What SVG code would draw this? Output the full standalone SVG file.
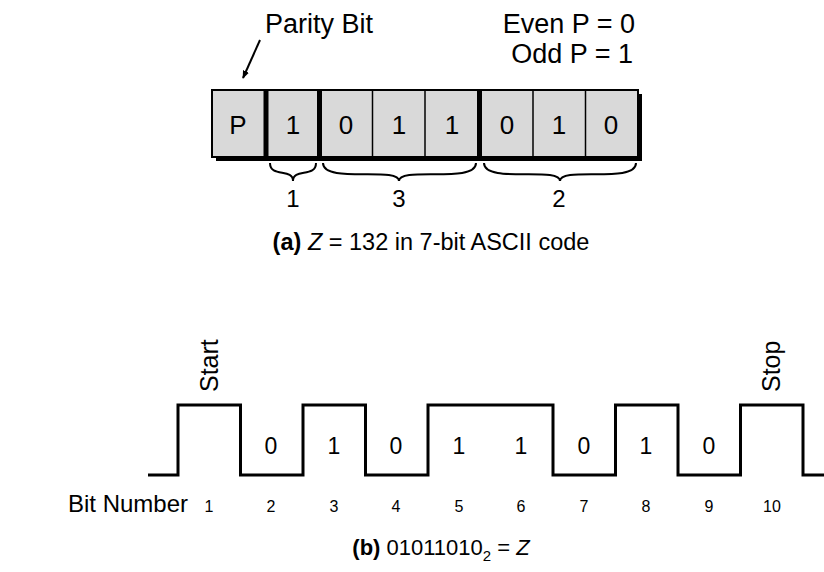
<svg xmlns="http://www.w3.org/2000/svg" width="824" height="572" viewBox="0 0 824 572">
<style>
text{font-family:"Liberation Sans",Arial,sans-serif;fill:#000}
.t25{font-size:27px}
.cell{font-size:26px;text-anchor:middle}
.lbl{font-size:24px;text-anchor:middle}
.rot{font-size:25px;text-anchor:start}
.cap{font-size:23.5px;text-anchor:middle}
.capb{font-size:22px;text-anchor:middle}
.dig{font-size:23px;text-anchor:middle}
.num{font-size:16px;text-anchor:middle}
.brace{fill:none;stroke:#000;stroke-width:2}
.thin{stroke:#000;stroke-width:1.5}
.thick{stroke:#000;stroke-width:5}
</style>
<defs>
<marker id="ah" viewBox="0 0 10 10" refX="9" refY="5" markerWidth="8" markerHeight="8" orient="auto" markerUnits="userSpaceOnUse">
<path d="M0,1 L10,5 L0,9 Z" fill="#000"/>
</marker>
</defs>
<rect width="824" height="572" fill="#fff"/>

<g id="parity-label">
<text class="t25" x="265" y="33">Parity Bit</text>
</g>
<g id="even-odd">
<text class="t25" x="635" y="33" text-anchor="end">Even P = 0</text>
<text class="t25" x="633" y="63" text-anchor="end">Odd P = 1</text>
</g>

<g id="register">
<rect x="216" y="94" width="426" height="67" fill="#000"/>
<rect x="212" y="90" width="426" height="67" fill="#d9d9d9" stroke="#000" stroke-width="2"/>
<line class="thick" x1="266" y1="90" x2="266" y2="160"/>
<line class="thick" x1="319.5" y1="90" x2="319.5" y2="160"/>
<line class="thick" x1="479.5" y1="90" x2="479.5" y2="160"/>
<line class="thin" x1="372.5" y1="90" x2="372.5" y2="157"/>
<line class="thin" x1="425" y1="90" x2="425" y2="157"/>
<line class="thin" x1="533" y1="90" x2="533" y2="157"/>
<line class="thin" x1="585.5" y1="90" x2="585.5" y2="157"/>
<text class="cell" x="238" y="134">P</text>
<text class="cell" x="293" y="134">1</text>
<text class="cell" x="346" y="134">0</text>
<text class="cell" x="399" y="134">1</text>
<text class="cell" x="452" y="134">1</text>
<text class="cell" x="507" y="134">0</text>
<text class="cell" x="559" y="134">1</text>
<text class="cell" x="611" y="134">0</text>
</g>

<g id="braces">
<path class="brace" d="M270,163 C270,178 293,168 293,181 C293,168 316,178 316,163"/>
<path class="brace" d="M323,163 C323,184 399,166 399,181 C399,166 476,184 476,163"/>
<path class="brace" d="M484,163 C484,184 560,166 560,181 C560,166 636,184 636,163"/>
<text class="lbl" x="293" y="207">1</text>
<text class="lbl" x="399" y="207">3</text>
<text class="lbl" x="559" y="207">2</text>
</g>

<g id="caption-a">
<text class="cap" x="431" y="250"><tspan font-weight="bold">(a)</tspan> <tspan font-style="italic">Z</tspan> = 132 in 7-bit ASCII code</text>
</g>

<g id="connectors">
<line x1="260" y1="40" x2="243" y2="78" stroke="#000" stroke-width="2" marker-end="url(#ah)"/>
</g>

<g id="waveform">
<path d="M148,475 H178 V405 H240.5 V475 H303 V405 H365.5 V475 H428 V405 H553 V475 H615.5 V405 H678 V475 H740.5 V405 H803 V475 H824" fill="none" stroke="#000" stroke-width="3"/>
<text class="rot" transform="translate(218,392) rotate(-90)">Start</text>
<text class="rot" transform="translate(780,392) rotate(-90)">Stop</text>
<text class="dig" x="271" y="454">0</text>
<text class="dig" x="334" y="454">1</text>
<text class="dig" x="396" y="454">0</text>
<text class="dig" x="459" y="454">1</text>
<text class="dig" x="521" y="454">1</text>
<text class="dig" x="584" y="454">0</text>
<text class="dig" x="646" y="454">1</text>
<text class="dig" x="709" y="454">0</text>
</g>

<g id="bit-numbers">
<text x="68" y="512" font-size="24">Bit Number</text>
<text class="num" x="209" y="512">1</text>
<text class="num" x="271" y="512">2</text>
<text class="num" x="334" y="512">3</text>
<text class="num" x="396" y="512">4</text>
<text class="num" x="459" y="512">5</text>
<text class="num" x="521" y="512">6</text>
<text class="num" x="584" y="512">7</text>
<text class="num" x="646" y="512">8</text>
<text class="num" x="709" y="512">9</text>
<text class="num" x="772" y="512">10</text>
</g>

<g id="caption-b">
<text class="capb" x="441" y="555"><tspan font-weight="bold">(b)</tspan> 01011010<tspan font-size="15" dy="6">2</tspan><tspan dy="-6"> = </tspan><tspan font-style="italic">Z</tspan></text>
</g>
</svg>
